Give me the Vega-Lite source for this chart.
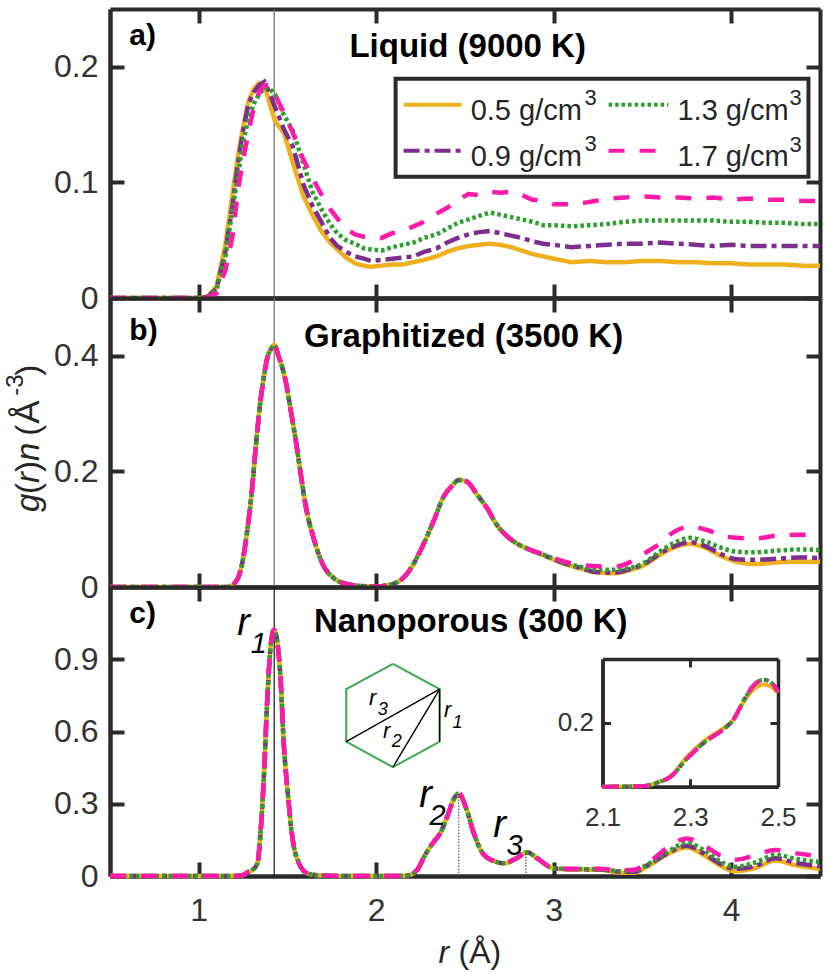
{
"$schema":"https://vega.github.io/schema/vega-lite/v6.json",
"padding":{"left":3,"top":7,"right":0,"bottom":0},
"background":"white",
"bounds":"flush",
"spacing":0,
"config":{"view":{"stroke":null},"font":"Liberation Sans","text":{"color":"#262626","font":"Liberation Sans"},
"axis":{"grid":false,"title":null,"domainColor":"#2b2b2b","domainWidth":4,"tickColor":"#2b2b2b","tickWidth":4,"tickSize":14,"labelFontSize":32,"labelColor":"#333333","labelFont":"Liberation Sans","format":"~g","labelOverlap":false,"labelBound":false,"labelFlush":false}},
"datasets":{
"a":[
{"r":0.5,"d05":0,"d09":0,"d13":0,"d17":0},{"r":0.8,"d05":0,"d09":0,"d13":0,"d17":0},{"r":1.0,"d05":0,"d09":0,"d13":0,"d17":0},
{"r":1.05,"d05":0.001,"d09":0.001,"d13":0.001,"d17":0.0005},{"r":1.1,"d05":0.01,"d09":0.008,"d13":0.007,"d17":0.004},{"r":1.15,"d05":0.046,"d09":0.04,"d13":0.036,"d17":0.024},
{"r":1.19,"d05":0.09,"d09":0.08,"d13":0.076,"d17":0.053},{"r":1.22,"d05":0.122,"d09":0.115,"d13":0.105,"d17":0.092},{"r":1.25,"d05":0.148,"d09":0.145,"d13":0.135,"d17":0.12},
{"r":1.28,"d05":0.17,"d09":0.168,"d13":0.155,"d17":0.143},{"r":1.31,"d05":0.181,"d09":0.178,"d13":0.168,"d17":0.165},{"r":1.34,"d05":0.186,"d09":0.184,"d13":0.176,"d17":0.178},
{"r":1.37,"d05":0.184,"d09":0.187,"d13":0.182,"d17":0.184},{"r":1.4,"d05":0.168,"d09":0.177,"d13":0.181,"d17":0.184},{"r":1.43,"d05":0.153,"d09":0.165,"d13":0.176,"d17":0.176},
{"r":1.48,"d05":0.1425,"d09":0.146,"d13":0.158,"d17":0.16},{"r":1.53,"d05":0.117,"d09":0.131,"d13":0.145,"d17":0.143},{"r":1.59,"d05":0.088,"d09":0.098,"d13":0.116,"d17":0.1195},
{"r":1.64,"d05":0.072,"d09":0.08,"d13":0.092,"d17":0.104},{"r":1.69,"d05":0.058,"d09":0.066,"d13":0.077,"d17":0.09},{"r":1.74,"d05":0.048,"d09":0.052,"d13":0.064,"d17":0.077},
{"r":1.78,"d05":0.042,"d09":0.045,"d13":0.056,"d17":0.069},{"r":1.83,"d05":0.035,"d09":0.04,"d13":0.05,"d17":0.06},{"r":1.88,"d05":0.03,"d09":0.036,"d13":0.047,"d17":0.055},
{"r":1.93,"d05":0.028,"d09":0.034,"d13":0.043,"d17":0.053},{"r":1.97,"d05":0.027,"d09":0.032,"d13":0.042,"d17":0.052},{"r":2.03,"d05":0.028,"d09":0.033,"d13":0.041,"d17":0.052},
{"r":2.09,"d05":0.029,"d09":0.034,"d13":0.044,"d17":0.056},{"r":2.15,"d05":0.029,"d09":0.035,"d13":0.046,"d17":0.058},{"r":2.21,"d05":0.031,"d09":0.036,"d13":0.048,"d17":0.062},
{"r":2.27,"d05":0.033,"d09":0.04,"d13":0.052,"d17":0.066},{"r":2.34,"d05":0.036,"d09":0.043,"d13":0.055,"d17":0.073},{"r":2.4,"d05":0.04,"d09":0.048,"d13":0.06,"d17":0.078},
{"r":2.46,"d05":0.043,"d09":0.052,"d13":0.065,"d17":0.085},{"r":2.52,"d05":0.045,"d09":0.055,"d13":0.068,"d17":0.09},{"r":2.58,"d05":0.046,"d09":0.057,"d13":0.071,"d17":0.089},
{"r":2.64,"d05":0.047,"d09":0.058,"d13":0.074,"d17":0.092},{"r":2.7,"d05":0.046,"d09":0.056,"d13":0.072,"d17":0.091},{"r":2.76,"d05":0.044,"d09":0.054,"d13":0.07,"d17":0.092},
{"r":2.82,"d05":0.041,"d09":0.052,"d13":0.068,"d17":0.089},{"r":2.88,"d05":0.038,"d09":0.049,"d13":0.066,"d17":0.085},{"r":2.94,"d05":0.036,"d09":0.047,"d13":0.063,"d17":0.084},
{"r":3.0,"d05":0.034,"d09":0.046,"d13":0.063,"d17":0.081},{"r":3.1,"d05":0.031,"d09":0.044,"d13":0.062,"d17":0.081},{"r":3.2,"d05":0.032,"d09":0.045,"d13":0.063,"d17":0.083},
{"r":3.3,"d05":0.031,"d09":0.046,"d13":0.064,"d17":0.086},{"r":3.4,"d05":0.031,"d09":0.047,"d13":0.066,"d17":0.087},{"r":3.5,"d05":0.032,"d09":0.047,"d13":0.067,"d17":0.088},
{"r":3.6,"d05":0.032,"d09":0.048,"d13":0.067,"d17":0.087},{"r":3.7,"d05":0.031,"d09":0.047,"d13":0.067,"d17":0.087},{"r":3.8,"d05":0.031,"d09":0.046,"d13":0.067,"d17":0.086},
{"r":3.9,"d05":0.03,"d09":0.045,"d13":0.067,"d17":0.087},{"r":4.0,"d05":0.03,"d09":0.046,"d13":0.066,"d17":0.085},{"r":4.1,"d05":0.029,"d09":0.045,"d13":0.066,"d17":0.086},
{"r":4.2,"d05":0.029,"d09":0.045,"d13":0.065,"d17":0.085},{"r":4.3,"d05":0.029,"d09":0.045,"d13":0.065,"d17":0.085},{"r":4.4,"d05":0.028,"d09":0.045,"d13":0.064,"d17":0.084},
{"r":4.5,"d05":0.028,"d09":0.045,"d13":0.064,"d17":0.084}],
"b":[
{"r":0.5,"d05":0,"d09":0,"d13":0,"d17":0},{"r":1.1,"d05":0,"d09":0,"d13":0,"d17":0},{"r":1.16,"d05":0,"d09":0,"d13":0,"d17":0},
{"r":1.2,"d05":0.006,"d09":0.006,"d13":0.006,"d17":0.006},{"r":1.236,"d05":0.029,"d09":0.029,"d13":0.029,"d17":0.029},{"r":1.274,"d05":0.099,"d09":0.099,"d13":0.099,"d17":0.099},
{"r":1.298,"d05":0.162,"d09":0.162,"d13":0.162,"d17":0.162},{"r":1.325,"d05":0.255,"d09":0.255,"d13":0.255,"d17":0.255},{"r":1.344,"d05":0.312,"d09":0.312,"d13":0.312,"d17":0.312},
{"r":1.367,"d05":0.364,"d09":0.364,"d13":0.364,"d17":0.364},{"r":1.386,"d05":0.396,"d09":0.396,"d13":0.396,"d17":0.396},{"r":1.41,"d05":0.413,"d09":0.413,"d13":0.413,"d17":0.413},
{"r":1.425,"d05":0.419,"d09":0.419,"d13":0.419,"d17":0.419},{"r":1.45,"d05":0.399,"d09":0.399,"d13":0.399,"d17":0.399},{"r":1.49,"d05":0.3555,"d09":0.3555,"d13":0.3555,"d17":0.3555},
{"r":1.518,"d05":0.3065,"d09":0.3065,"d13":0.3065,"d17":0.3065},{"r":1.546,"d05":0.2545,"d09":0.2545,"d13":0.2545,"d17":0.2545},{"r":1.574,"d05":0.197,"d09":0.197,"d13":0.197,"d17":0.197},
{"r":1.6,"d05":0.145,"d09":0.145,"d13":0.145,"d17":0.145},{"r":1.65,"d05":0.0815,"d09":0.0815,"d13":0.0815,"d17":0.0815},{"r":1.696,"d05":0.041,"d09":0.041,"d13":0.041,"d17":0.041},
{"r":1.762,"d05":0.015,"d09":0.015,"d13":0.015,"d17":0.015},{"r":1.837,"d05":0.005,"d09":0.005,"d13":0.005,"d17":0.005},{"r":1.9,"d05":0.002,"d09":0.002,"d13":0.002,"d17":0.002},
{"r":2.0,"d05":0.001,"d09":0.001,"d13":0.001,"d17":0.001},{"r":2.1,"d05":0.006,"d09":0.006,"d13":0.006,"d17":0.006},{"r":2.175,"d05":0.0235,"d09":0.0235,"d13":0.0235,"d17":0.0235},
{"r":2.25,"d05":0.0635,"d09":0.0635,"d13":0.0635,"d17":0.0635},{"r":2.325,"d05":0.1155,"d09":0.1155,"d13":0.1155,"d17":0.1155},{"r":2.38,"d05":0.1566,"d09":0.1566,"d13":0.1566,"d17":0.1566},
{"r":2.43,"d05":0.176,"d09":0.176,"d13":0.176,"d17":0.176},{"r":2.465,"d05":0.1853,"d09":0.1853,"d13":0.1853,"d17":0.1853},{"r":2.51,"d05":0.1824,"d09":0.1824,"d13":0.1824,"d17":0.1824},
{"r":2.57,"d05":0.159,"d09":0.159,"d13":0.159,"d17":0.159},{"r":2.625,"d05":0.136,"d09":0.136,"d13":0.136,"d17":0.136},{"r":2.68,"d05":0.107,"d09":0.107,"d13":0.107,"d17":0.107},
{"r":2.74,"d05":0.087,"d09":0.087,"d13":0.087,"d17":0.087},{"r":2.79,"d05":0.0757,"d09":0.0757,"d13":0.0757,"d17":0.0757},{"r":2.87,"d05":0.064,"d09":0.064,"d13":0.064,"d17":0.064},
{"r":2.96,"d05":0.0525,"d09":0.053,"d13":0.054,"d17":0.0553},{"r":3.06,"d05":0.04,"d09":0.041,"d13":0.042,"d17":0.044},{"r":3.15,"d05":0.032,"d09":0.033,"d13":0.035,"d17":0.0385},
{"r":3.24,"d05":0.0254,"d09":0.026,"d13":0.03,"d17":0.036},{"r":3.34,"d05":0.0237,"d09":0.025,"d13":0.03,"d17":0.035},{"r":3.43,"d05":0.0295,"d09":0.031,"d13":0.033,"d17":0.043},
{"r":3.51,"d05":0.038,"d09":0.04,"d13":0.042,"d17":0.058},{"r":3.6,"d05":0.056,"d09":0.058,"d13":0.062,"d17":0.0756},{"r":3.675,"d05":0.068,"d09":0.07,"d13":0.076,"d17":0.095},
{"r":3.77,"d05":0.0745,"d09":0.0775,"d13":0.085,"d17":0.1045},{"r":3.86,"d05":0.067,"d09":0.07,"d13":0.078,"d17":0.099},{"r":3.95,"d05":0.0525,"d09":0.056,"d13":0.067,"d17":0.089},
{"r":4.03,"d05":0.0438,"d09":0.048,"d13":0.061,"d17":0.085},{"r":4.13,"d05":0.0398,"d09":0.047,"d13":0.06,"d17":0.084},{"r":4.26,"d05":0.0427,"d09":0.049,"d13":0.063,"d17":0.089},
{"r":4.39,"d05":0.0438,"d09":0.051,"d13":0.065,"d17":0.0905},{"r":4.5,"d05":0.0438,"d09":0.05,"d13":0.064,"d17":0.09}],
"c":[
{"r":0.5,"d05":0,"d09":0,"d13":0,"d17":0},{"r":1.2,"d05":0,"d09":0,"d13":0,"d17":0},{"r":1.25,"d05":0.004,"d09":0.004,"d13":0.004,"d17":0.004},
{"r":1.274,"d05":0.015,"d09":0.015,"d13":0.015,"d17":0.015},{"r":1.3,"d05":0.024,"d09":0.024,"d13":0.024,"d17":0.024},{"r":1.33,"d05":0.052,"d09":0.052,"d13":0.052,"d17":0.052},
{"r":1.349,"d05":0.19,"d09":0.19,"d13":0.19,"d17":0.19},{"r":1.367,"d05":0.413,"d09":0.413,"d13":0.413,"d17":0.413},{"r":1.386,"d05":0.732,"d09":0.732,"d13":0.732,"d17":0.732},
{"r":1.405,"d05":0.953,"d09":0.953,"d13":0.953,"d17":0.953},{"r":1.424,"d05":1.022,"d09":1.022,"d13":1.022,"d17":1.022},{"r":1.44,"d05":0.985,"d09":0.985,"d13":0.985,"d17":0.985},
{"r":1.46,"d05":0.83,"d09":0.83,"d13":0.83,"d17":0.83},{"r":1.48,"d05":0.537,"d09":0.537,"d13":0.537,"d17":0.537},{"r":1.5,"d05":0.358,"d09":0.358,"d13":0.358,"d17":0.358},
{"r":1.527,"d05":0.163,"d09":0.163,"d13":0.163,"d17":0.163},{"r":1.565,"d05":0.052,"d09":0.052,"d13":0.052,"d17":0.052},{"r":1.612,"d05":0.011,"d09":0.011,"d13":0.011,"d17":0.011},
{"r":1.687,"d05":0.002,"d09":0.002,"d13":0.002,"d17":0.002},{"r":1.8,"d05":0,"d09":0,"d13":0,"d17":0},{"r":2.1,"d05":0,"d09":0,"d13":0,"d17":0},
{"r":2.175,"d05":0.002,"d09":0.002,"d13":0.002,"d17":0.002},{"r":2.23,"d05":0.025,"d09":0.025,"d13":0.025,"d17":0.025},{"r":2.275,"d05":0.0876,"d09":0.0876,"d13":0.0876,"d17":0.0876},
{"r":2.325,"d05":0.143,"d09":0.143,"d13":0.143,"d17":0.143},{"r":2.36,"d05":0.177,"d09":0.177,"d13":0.177,"d17":0.177},{"r":2.4,"d05":0.247,"d09":0.247,"d13":0.247,"d17":0.247},
{"r":2.44,"d05":0.32,"d09":0.325,"d13":0.325,"d17":0.325},{"r":2.465,"d05":0.335,"d09":0.344,"d13":0.344,"d17":0.344},{"r":2.51,"d05":0.274,"d09":0.274,"d13":0.274,"d17":0.274},
{"r":2.55,"d05":0.177,"d09":0.177,"d13":0.177,"d17":0.177},{"r":2.6,"d05":0.094,"d09":0.094,"d13":0.094,"d17":0.094},{"r":2.67,"d05":0.06,"d09":0.06,"d13":0.06,"d17":0.06},
{"r":2.72,"d05":0.053,"d09":0.053,"d13":0.053,"d17":0.053},{"r":2.79,"d05":0.0736,"d09":0.0736,"d13":0.0736,"d17":0.0736},{"r":2.85,"d05":0.0985,"d09":0.0985,"d13":0.0985,"d17":0.0985},
{"r":2.906,"d05":0.0736,"d09":0.0736,"d13":0.0736,"d17":0.0736},{"r":3.0,"d05":0.032,"d09":0.032,"d13":0.032,"d17":0.032},{"r":3.1,"d05":0.027,"d09":0.028,"d13":0.029,"d17":0.03},
{"r":3.26,"d05":0.026,"d09":0.027,"d13":0.028,"d17":0.03},{"r":3.38,"d05":0.014,"d09":0.018,"d13":0.02,"d17":0.024},{"r":3.45,"d05":0.014,"d09":0.018,"d13":0.022,"d17":0.026},
{"r":3.54,"d05":0.045,"d09":0.05,"d13":0.053,"d17":0.06},{"r":3.64,"d05":0.09,"d09":0.094,"d13":0.1,"d17":0.118},{"r":3.75,"d05":0.118,"d09":0.126,"d13":0.138,"d17":0.156},
{"r":3.85,"d05":0.085,"d09":0.092,"d13":0.105,"d17":0.125},{"r":3.94,"d05":0.042,"d09":0.05,"d13":0.06,"d17":0.085},{"r":4.02,"d05":0.02,"d09":0.03,"d13":0.038,"d17":0.067},
{"r":4.13,"d05":0.032,"d09":0.04,"d13":0.055,"d17":0.085},{"r":4.25,"d05":0.064,"d09":0.074,"d13":0.088,"d17":0.108},{"r":4.36,"d05":0.045,"d09":0.055,"d13":0.072,"d17":0.095},
{"r":4.5,"d05":0.03,"d09":0.04,"d13":0.058,"d17":0.081}],
"inset":[
{"r":2.1,"d05":0,"d09":0,"d13":0,"d17":0},{"r":2.195,"d05":0.002,"d09":0.002,"d13":0.002,"d17":0.002},{"r":2.225,"d05":0.0135,"d09":0.0125,"d13":0.0125,"d17":0.0125},
{"r":2.255,"d05":0.033,"d09":0.031,"d13":0.031,"d17":0.031},{"r":2.293,"d05":0.094,"d09":0.0885,"d13":0.0885,"d17":0.0885},{"r":2.339,"d05":0.151,"d09":0.146,"d13":0.146,"d17":0.146},
{"r":2.373,"d05":0.181,"d09":0.177,"d13":0.177,"d17":0.177},{"r":2.4,"d05":0.213,"d09":0.2135,"d13":0.2135,"d17":0.2135},{"r":2.422,"d05":0.266,"d09":0.271,"d13":0.271,"d17":0.271},
{"r":2.445,"d05":0.305,"d09":0.318,"d13":0.318,"d17":0.318},{"r":2.467,"d05":0.32,"d09":0.335,"d13":0.335,"d17":0.335},{"r":2.483,"d05":0.314,"d09":0.328,"d13":0.328,"d17":0.328},
{"r":2.5,"d05":0.294,"d09":0.297,"d13":0.297,"d17":0.297}],
"hex":[{"i":0,"r":2.094,"v":0.881},{"i":1,"r":2.357,"v":0.776},{"i":2,"r":2.357,"v":0.558},{"i":3,"r":2.094,"v":0.452},{"i":4,"r":1.831,"v":0.558},{"i":5,"r":1.831,"v":0.776},{"i":6,"r":2.094,"v":0.881}],
"hexlines":[{"r":2.357,"v":0.776,"r2":1.831,"v2":0.558},{"r":2.357,"v":0.776,"r2":2.094,"v2":0.452},{"r":2.357,"v":0.776,"r2":2.357,"v2":0.558}],
"samples":[{"s":"d05","r":2.154,"r2":2.481,"v":0.1671},{"s":"d09","r":2.154,"r2":2.481,"v":0.1273},{"s":"d13","r":3.309,"r2":3.646,"v":0.1671},{"s":"d17","r":3.309,"r2":3.646,"v":0.1273}],
"legendtext":[{"t":"0.5 g/cm","r":2.532,"v":0.1541},{"t":"0.9 g/cm","r":2.532,"v":0.1143},{"t":"1.3 g/cm","r":3.697,"v":0.1541},{"t":"1.7 g/cm","r":3.697,"v":0.1143}],
"legendsup":[{"t":"3","r":3.173,"v":0.1671},{"t":"3","r":3.173,"v":0.1273},{"t":"3","r":4.328,"v":0.1671},{"t":"3","r":4.328,"v":0.1264}]
},
"vconcat":[
{"width":710,"height":289,
"encoding":{"x":{"field":"r","type":"quantitative","scale":{"domain":[0.5,4.5]},"axis":null},"y":{"field":"v","type":"quantitative","scale":{"domain":[0,0.25]},"axis":null}},
"resolve":{"axis":{"x":"independent","y":"independent"}},
"layer":[
{"data":{"values":[{"r":1.425,"v":0,"v2":0.25}]},"mark":{"type":"rule","color":"#777777","strokeWidth":1.3},
"encoding":{"x":{"field":"r","type":"quantitative","axis":{"orient":"bottom","ticks":false,"labels":false,"values":[1,2,3,4]}},"y":{"field":"v","type":"quantitative","axis":{"orient":"left","ticks":false,"labelPadding":12,"labelFontSize":32,"values":[0,0.1,0.2]}},"y2":{"field":"v2"}}},
{"data":{"values":[{"r":1.425,"v":0,"v2":0.25}]},"mark":{"type":"rule","opacity":0},
"encoding":{"x":{"field":"r","type":"quantitative","axis":{"orient":"top","offset":-289,"tickSize":14,"tickWidth":4,"labels":false,"values":[1,2,3,4]}},"y":{"field":"v","type":"quantitative","axis":{"orient":"right","offset":-710,"tickSize":14,"tickWidth":4,"labels":false,"values":[0,0.1,0.2]}},"y2":{"field":"v2"}}},
{"data":{"values":[{"r":1.425,"v":0,"v2":0.25}]},"mark":{"type":"rule","opacity":0},
"encoding":{"x":{"field":"r","type":"quantitative","axis":{"orient":"bottom","offset":-289,"tickSize":14,"tickWidth":4,"labels":false,"values":[1,2,3,4]}},"y":{"field":"v","type":"quantitative","axis":{"orient":"left","offset":-710,"tickSize":14,"tickWidth":4,"labels":false,"values":[0,0.1,0.2]}},"y2":{"field":"v2"}}},
{"data":{"name":"a"},"transform":[{"fold":["d05","d09","d13","d17"],"as":["s","v"]}],"mark":{"type":"line","strokeWidth":4.5},
"encoding":{"color":{"field":"s","type":"nominal","legend":null,"scale":{"domain":["d05","d09","d13","d17"],"range":["#EDB120","#7E2F8E","#2CA02C","#FF1AA8"]}},"strokeDash":{"field":"s","type":"nominal","legend":null,"scale":{"domain":["d05","d09","d13","d17"],"range":[[1,0],[16,5,5,5],[3.5,3],[16,15]]}}}},
{"data":{"values":[{"r":2.109,"r2":4.435,"v":0.1896,"v2":0.1048}]},"mark":{"type":"rect","fill":"white","stroke":"#2b2b2b","strokeWidth":4},"encoding":{"x2":{"field":"r2"},"y2":{"field":"v2"}}},
{"data":{"name":"samples"},"mark":{"type":"rule","strokeWidth":4},"encoding":{"x2":{"field":"r2"},"color":{"field":"s","type":"nominal","legend":null},"strokeDash":{"field":"s","type":"nominal","legend":null}}},
{"data":{"name":"legendtext"},"mark":{"type":"text","align":"left","baseline":"alphabetic","fontSize":29},"encoding":{"text":{"field":"t"}}},
{"data":{"name":"legendsup"},"mark":{"type":"text","align":"left","baseline":"alphabetic","fontSize":22},"encoding":{"text":{"field":"t"}}},
{"data":{"values":[{"t":"Liquid (9000 K)","r":2.515,"v":0.2087}]},"mark":{"type":"text","align":"center","baseline":"alphabetic","fontSize":33,"fontWeight":"bold","color":"black"},"encoding":{"text":{"field":"t"}}},
{"data":{"values":[{"t":"a)","r":0.609,"v":0.219}]},"mark":{"type":"text","align":"left","baseline":"alphabetic","fontSize":30,"fontWeight":"bold","color":"black"},"encoding":{"text":{"field":"t"}}}
]},
{"width":710,"height":289,
"encoding":{"x":{"field":"r","type":"quantitative","scale":{"domain":[0.5,4.5]},"axis":null},"y":{"field":"v","type":"quantitative","scale":{"domain":[0,0.5]},"axis":null}},
"resolve":{"axis":{"x":"independent","y":"independent"}},
"layer":[
{"data":{"values":[{"r":1.425,"v":0,"v2":0.5}]},"mark":{"type":"rule","color":"#777777","strokeWidth":1.3},
"encoding":{"x":{"field":"r","type":"quantitative","axis":{"orient":"bottom","ticks":false,"labels":false,"values":[1,2,3,4]}},"y":{"field":"v","type":"quantitative","axis":{"orient":"left","ticks":false,"labelPadding":12,"labelFontSize":32,"values":[0,0.2,0.4]}},"y2":{"field":"v2"}}},
{"data":{"values":[{"r":1.425,"v":0,"v2":0.5}]},"mark":{"type":"rule","opacity":0},
"encoding":{"x":{"field":"r","type":"quantitative","axis":{"orient":"top","offset":-289,"tickSize":14,"tickWidth":4,"labels":false,"values":[1,2,3,4]}},"y":{"field":"v","type":"quantitative","axis":{"orient":"right","offset":-710,"tickSize":14,"tickWidth":4,"labels":false,"values":[0,0.2,0.4]}},"y2":{"field":"v2"}}},
{"data":{"values":[{"r":1.425,"v":0,"v2":0.5}]},"mark":{"type":"rule","opacity":0},
"encoding":{"x":{"field":"r","type":"quantitative","axis":{"orient":"bottom","offset":-289,"tickSize":14,"tickWidth":4,"labels":false,"values":[1,2,3,4]}},"y":{"field":"v","type":"quantitative","axis":{"orient":"left","offset":-710,"tickSize":14,"tickWidth":4,"labels":false,"values":[0,0.2,0.4]}},"y2":{"field":"v2"}}},
{"data":{"name":"b"},"transform":[{"fold":["d05","d09","d13","d17"],"as":["s","v"]}],"mark":{"type":"line","strokeWidth":4.5,"interpolate":"monotone"},
"encoding":{"color":{"field":"s","type":"nominal","legend":null},"strokeDash":{"field":"s","type":"nominal","legend":null}}},
{"data":{"values":[{"t":"Graphitized (3500 K)","r":2.492,"v":0.4156}]},"mark":{"type":"text","align":"center","baseline":"alphabetic","fontSize":33,"fontWeight":"bold","color":"black"},"encoding":{"text":{"field":"t"}}},
{"data":{"values":[{"t":"b)","r":0.609,"v":0.4277}]},"mark":{"type":"text","align":"left","baseline":"alphabetic","fontSize":30,"fontWeight":"bold","color":"black"},"encoding":{"text":{"field":"t"}}},
{"data":{"values":[{"t":"g","r":0.099,"v":0.1299},{"t":"r","r":0.099,"v":0.18},{"t":"n","r":0.099,"v":0.218}]},"mark":{"type":"text","align":"left","baseline":"alphabetic","angle":270,"fontSize":33,"fontStyle":"italic"},"encoding":{"text":{"field":"t"}}},
{"data":{"values":[{"t":"(","r":0.099,"v":0.161},{"t":")","r":0.099,"v":0.199},{"t":"(","r":0.099,"v":0.2615},{"t":")","r":0.099,"v":0.3654}]},"mark":{"type":"text","align":"left","baseline":"alphabetic","angle":270,"fontSize":33},"encoding":{"text":{"field":"t"}}},
{"data":{"values":[{"t":"Å","r":0.099,"v":0.2823}]},"mark":{"type":"text","align":"left","baseline":"alphabetic","angle":270,"fontSize":35},"encoding":{"text":{"field":"t"}}},
{"data":{"values":[{"t":"-3","r":0.009,"v":0.3307}]},"mark":{"type":"text","align":"left","baseline":"alphabetic","angle":270,"fontSize":24},"encoding":{"text":{"field":"t"}}}
]},
{"width":710,"height":289,
"resolve":{"scale":{"x":"independent","y":"independent"}},
"layer":[
{"encoding":{"x":{"field":"r","type":"quantitative","scale":{"domain":[0.5,4.5]},"axis":null},"y":{"field":"v","type":"quantitative","scale":{"domain":[0,1.2]},"axis":null}},
"resolve":{"axis":{"x":"independent","y":"independent"}},
"layer":[
{"data":{"values":[{"r":1.425,"v":0,"v2":1.2}]},"mark":{"type":"rule","color":"black","strokeWidth":1.1},
"encoding":{"x":{"field":"r","type":"quantitative","axis":{"orient":"bottom","ticks":false,"labelPadding":19,"labelFontSize":32,"values":[1,2,3,4]}},"y":{"field":"v","type":"quantitative","axis":{"orient":"left","ticks":false,"labelPadding":12,"labelFontSize":32,"values":[0,0.3,0.6,0.9]}},"y2":{"field":"v2"}}},
{"data":{"values":[{"r":1.425,"v":0,"v2":1.2}]},"mark":{"type":"rule","opacity":0},
"encoding":{"x":{"field":"r","type":"quantitative","axis":{"orient":"top","offset":-289,"tickSize":14,"tickWidth":4,"labels":false,"values":[1,2,3,4]}},"y":{"field":"v","type":"quantitative","axis":{"orient":"right","offset":-710,"tickSize":14,"tickWidth":4,"labels":false,"values":[0,0.3,0.6,0.9]}},"y2":{"field":"v2"}}},
{"data":{"values":[{"r":1.425,"v":0,"v2":1.2}]},"mark":{"type":"rule","opacity":0},
"encoding":{"x":{"field":"r","type":"quantitative","axis":{"orient":"bottom","offset":-289,"tickSize":14,"tickWidth":4,"labels":false,"values":[1,2,3,4]}},"y":{"field":"v","type":"quantitative","axis":{"orient":"left","offset":-710,"tickSize":14,"tickWidth":4,"labels":false,"values":[0,0.3,0.6,0.9]}},"y2":{"field":"v2"}}},
{"data":{"name":"c"},"transform":[{"fold":["d05","d09","d13","d17"],"as":["s","v"]}],"mark":{"type":"line","strokeWidth":4.5,"interpolate":"monotone"},
"encoding":{"color":{"field":"s","type":"nominal","legend":null},"strokeDash":{"field":"s","type":"nominal","legend":null}}},
{"data":{"values":[{"r":2.465,"v":0,"v2":0.34},{"r":2.843,"v":0,"v2":0.095}]},"mark":{"type":"rule","color":"#333333","strokeWidth":1,"strokeDash":[1.5,1.5]},"encoding":{"y2":{"field":"v2"}}},
{"data":{"name":"hex"},"mark":{"type":"line","color":"#3CAB4E","strokeWidth":2},"encoding":{"order":{"field":"i"}}},
{"data":{"name":"hexlines"},"mark":{"type":"rule","color":"black","strokeWidth":1.4},"encoding":{"x2":{"field":"r2"},"y2":{"field":"v2"}}},
{"data":{"values":[{"t":"Nanoporous (300 K)","r":2.532,"v":1.014}]},"mark":{"type":"text","align":"center","baseline":"alphabetic","fontSize":33,"fontWeight":"bold","color":"black"},"encoding":{"text":{"field":"t"}}},
{"data":{"values":[{"t":"c)","r":0.609,"v":1.0515}]},"mark":{"type":"text","align":"left","baseline":"alphabetic","fontSize":30,"fontWeight":"bold","color":"black"},"encoding":{"text":{"field":"t"}}},
{"data":{"values":[{"t":"r","r":1.253,"v":1.002},{"t":"r","r":2.278,"v":0.287},{"t":"r","r":2.695,"v":0.162}]},"mark":{"type":"text","align":"center","baseline":"alphabetic","fontSize":38,"fontStyle":"italic","color":"black"},"encoding":{"text":{"field":"t"}}},
{"data":{"values":[{"t":"1","r":1.338,"v":0.927},{"t":"2","r":2.346,"v":0.212},{"t":"3","r":2.779,"v":0.087}]},"mark":{"type":"text","align":"center","baseline":"alphabetic","fontSize":29,"fontStyle":"italic","color":"black"},"encoding":{"text":{"field":"t"}}},
{"data":{"values":[{"t":"r","r":1.98,"v":0.711},{"t":"r","r":2.059,"v":0.574},{"t":"r","r":2.402,"v":0.661}]},"mark":{"type":"text","align":"center","baseline":"alphabetic","fontSize":22,"fontStyle":"italic","color":"black"},"encoding":{"text":{"field":"t"}}},
{"data":{"values":[{"t":"3","r":2.036,"v":0.669},{"t":"2","r":2.115,"v":0.536},{"t":"1","r":2.458,"v":0.615}]},"mark":{"type":"text","align":"center","baseline":"alphabetic","fontSize":18,"fontStyle":"italic","color":"black"},"encoding":{"text":{"field":"t"}}},
{"data":{"values":[{"t":"r","r":2.351,"v":-0.362}]},"mark":{"type":"text","align":"left","baseline":"alphabetic","fontSize":32,"fontStyle":"italic"},"encoding":{"text":{"field":"t"}}},
{"data":{"values":[{"t":"(Å)","r":2.464,"v":-0.362}]},"mark":{"type":"text","align":"left","baseline":"alphabetic","fontSize":32},"encoding":{"text":{"field":"t"}}}
]},
{"encoding":{"x":{"field":"r","type":"quantitative","scale":{"domain":[2.1,2.5],"range":[492.5,668]},"axis":null},"y":{"field":"v","type":"quantitative","scale":{"domain":[0,0.4],"range":[199.7,72]},"axis":null}},
"resolve":{"axis":{"x":"independent","y":"independent"}},
"layer":[
{"data":{"values":[{"r":2.3,"v":0}]},"mark":{"type":"rule","opacity":0},
"encoding":{"x":{"field":"r","type":"quantitative","axis":{"orient":"bottom","offset":-89.3,"values":[2.1,2.3,2.5],"ticks":false,"domainWidth":3.5,"labelFontSize":26,"labelPadding":18}},"y":{"field":"v","type":"quantitative","axis":{"orient":"left","offset":-492.5,"values":[0.2],"ticks":false,"domainWidth":3.5,"labelFontSize":26,"labelPadding":9}}}},
{"data":{"values":[{"r":2.3,"v":0}]},"mark":{"type":"rule","opacity":0},
"encoding":{"x":{"field":"r","type":"quantitative","axis":{"orient":"top","offset":-199.7,"values":[2.3],"labels":false,"domainWidth":3.5,"tickWidth":3,"tickSize":8}},"y":{"field":"v","type":"quantitative","axis":{"orient":"right","offset":-217.5,"values":[0.2],"labels":false,"domainWidth":3.5,"tickWidth":3,"tickSize":8}}}},
{"data":{"values":[{"r":2.3,"v":0}]},"mark":{"type":"rule","opacity":0},
"encoding":{"x":{"field":"r","type":"quantitative","axis":{"orient":"bottom","offset":-217,"values":[2.3],"labels":false,"domainWidth":3.5,"tickWidth":3,"tickSize":8}},"y":{"field":"v","type":"quantitative","axis":{"orient":"left","offset":-668,"values":[0.2],"labels":false,"domainWidth":3.5,"tickWidth":3,"tickSize":8}}}},
{"data":{"name":"inset"},"transform":[{"fold":["d05","d09","d13","d17"],"as":["s","v"]}],"mark":{"type":"line","strokeWidth":4,"interpolate":"monotone"},
"encoding":{"color":{"field":"s","type":"nominal","legend":null},"strokeDash":{"field":"s","type":"nominal","legend":null}}}
]}
]}
]}
